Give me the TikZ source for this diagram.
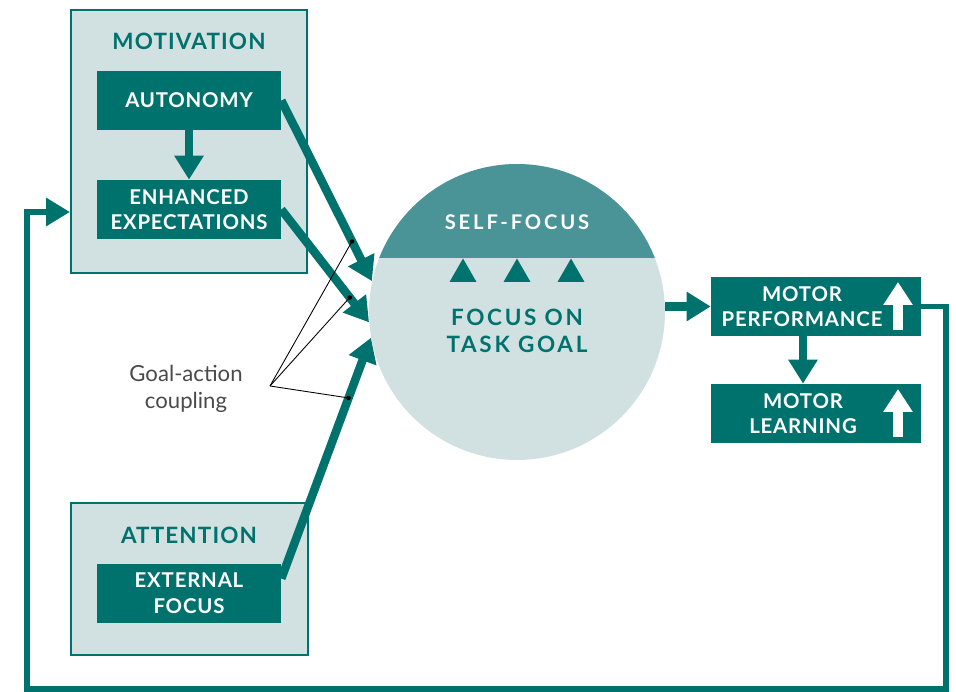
\documentclass[tikz,border=0pt]{standalone}
\usepackage{fontspec}
\setmainfont{Lato}
\usepackage{tikz}
\usetikzlibrary{arrows.meta}

\definecolor{tealdark}{HTML}{00726E}
\definecolor{tealmid}{HTML}{4A9396}
\definecolor{tealpale}{HTML}{D1E0E1}
\definecolor{notegray}{HTML}{4A4A4A}

\begin{document}
\begin{tikzpicture}[x = 0.02cm, y = -0.02cm,
  groupbox/.style = {draw = tealdark, line width = 1.1pt, fill = tealpale, inner sep = 0pt},
  darkbox/.style = {fill = tealdark, inner sep = 0pt, minimum height = 1.18cm},
  boxtext/.style = {white, align = center, font = \bfseries\fontsize{11.6}{14.6}\selectfont\addfontfeature{LetterSpace=4}},
  grouptitle/.style = {tealdark, font = \bfseries\fontsize{12.8}{14}\selectfont\addfontfeature{LetterSpace=5}},
  fat/.style = {tealdark, line width = 0.17cm, -{Triangle[width = 0.56cm, length = 0.48cm]}},
  loopline/.style = {tealdark, line width = 0.12cm, -{Triangle[width = 0.54cm, length = 0.48cm]}},
  uparrow/.style = {white, line width = 0.19cm, -{Triangle[width = 0.56cm, length = 0.46cm]}},
  pointer/.style = {black, line width = 0.5pt}]
\useasboundingbox (0,0) rectangle (956,692);

% groups
\node[groupbox, minimum width = 4.72cm, minimum height = 5.26cm] (motiv) at (189,141.5) {};
\node[grouptitle] at (189,41) {MOTIVATION};
\node[groupbox, minimum width = 4.74cm, minimum height = 3.04cm] (attn) at (189.5,579) {};
\node[grouptitle] at (189,535) {ATTENTION};

\node[darkbox, minimum width = 3.68cm] (auto) at (189,100.5) {};
\node[boxtext] at (auto) {AUTONOMY};
\node[darkbox, minimum width = 3.68cm] (expect) at (189,209.5) {};
\node[boxtext] at (expect) {ENHANCED\\EXPECTATIONS};
\node[darkbox, minimum width = 3.68cm] (ext) at (189,593.5) {};
\node[boxtext] at (ext) {EXTERNAL\\FOCUS};

% central circle
\node[circle, fill = tealpale, minimum size = 5.92cm, inner sep = 0pt] (focus) at (517,312) {};
\begin{scope}
\clip (focus.center) circle [radius = 2.96cm];
\fill[tealmid] (360,150) rectangle (680,258);
\end{scope}
\node[white, font = \bfseries\fontsize{11.5}{14}\selectfont\addfontfeature{LetterSpace=14}] at (517,222) {SELF-FOCUS};
\foreach \tx in {463,517,571}
  \fill[tealdark] (\tx-13.5,282) -- (\tx,258.5) -- (\tx+13.5,282) -- cycle;
\node[tealdark, align = center, font = \bfseries\fontsize{12.8}{15.4}\selectfont\addfontfeature{LetterSpace=12}] at (517,331) {FOCUS ON\\TASK GOAL};

% motor outcomes
\node[darkbox, minimum width = 4.2cm] (perf) at (816,306.5) {};
\node[boxtext] at (802,306.5) {MOTOR\\PERFORMANCE};
\node[darkbox, minimum width = 4.2cm] (learn) at (816,413.5) {};
\node[boxtext] at (803,413.5) {MOTOR\\LEARNING};
\draw[uparrow] (898,330) -- (898,282);
\draw[uparrow] (898,437) -- (898,389);

% arrows into the circle
\draw[fat] (auto.south) -- (expect.north);
\draw[fat] (auto.east) -- coordinate[pos = 0.78] (ga1) (focus.168);
\draw[fat] (expect.east) -- coordinate[pos = 0.78] (ga2) (focus.184);
\draw[fat] ([yshift = 0.3cm]ext.east) -- coordinate[pos = 0.75] (ga3) (focus.190);
\draw[fat] (focus.east |- perf.west) -- (perf.west);
\draw[fat] ([xshift = -0.26cm]perf.south) -- ([xshift = -0.26cm]learn.north);

% feedback loop
\coordinate (fbin) at (motiv.west |- 0,212);
\draw[loopline] (perf.east) -| (946,689) -| (27,212) -- (fbin);

% goal-action coupling
\node[notegray, align = center, font = \fontsize{12.6}{15}\selectfont] (gac) at (186,389) {Goal-action\\coupling};
\coordinate (hub) at (270,386);
\foreach \g in {ga1,ga2,ga3} {
  \draw[pointer] (hub) -- (\g);
  \fill (\g) circle (1.3pt);
}
\end{tikzpicture}
\end{document}
